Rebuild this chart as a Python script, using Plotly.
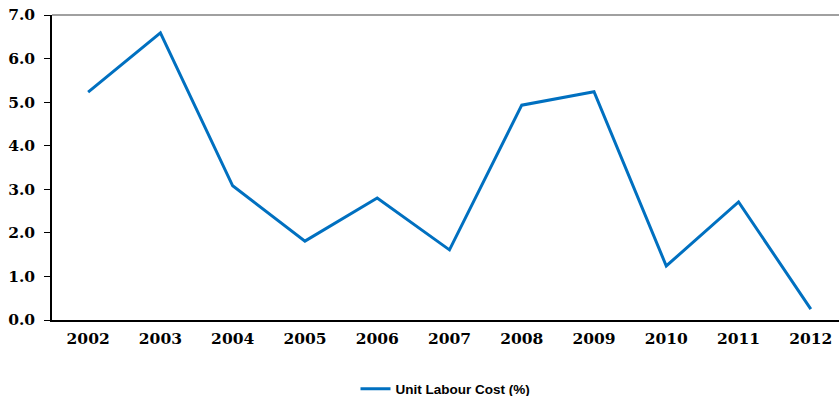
import plotly.graph_objects as go

years = ["2002", "2003", "2004", "2005", "2006", "2007", "2008", "2009", "2010", "2011", "2012"]
unit_labour_cost = [5.23, 6.59, 3.08, 1.81, 2.80, 1.61, 4.93, 5.24, 1.24, 2.71, 0.25]
y_ticks = [0, 1, 2, 3, 4, 5, 6, 7]

fig = go.Figure()
fig.add_trace(go.Scatter(
    x=list(range(len(years))),
    y=unit_labour_cost,
    mode="lines",
    name="Unit Labour Cost (%)",
    line=dict(color="#0070C0", width=3),
))

tick_font = dict(family="DejaVu Serif", size=15.5, color="#000000", weight="bold")

fig.update_layout(
    width=839,
    height=396,
    margin=dict(l=52, r=0, t=15, b=76, autoexpand=False),
    paper_bgcolor="white",
    plot_bgcolor="white",
    showlegend=True,
    legend=dict(
        orientation="h",
        x=0.5, xanchor="center", xref="paper",
        y=0.018, yanchor="middle", yref="container",
        font=dict(family="Liberation Sans", size=13.5, color="#000000", weight="bold"),
    ),
    xaxis=dict(
        range=[-0.5, 10.39],
        tickmode="array",
        tickvals=list(range(len(years))),
        ticktext=years,
        tickfont=tick_font,
        showgrid=False,
        showline=True,
        linecolor="#000000",
        linewidth=1.5,
        ticks="",
        ticklabelstandoff=4,
        zeroline=False,
    ),
    yaxis=dict(
        range=[0, 7],
        tickmode="array",
        tickvals=y_ticks,
        ticktext=[f"{v:.1f}" for v in y_ticks],
        tickfont=tick_font,
        showgrid=False,
        showline=True,
        linecolor="#000000",
        linewidth=1.5,
        ticks="outside",
        ticklen=6,
        tickcolor="#000000",
        ticklabelstandoff=6,
        zeroline=False,
    ),
    shapes=[dict(
        type="line", xref="paper", yref="paper",
        x0=0, x1=1, y0=1, y1=1,
        line=dict(color="#808080", width=1.5),
    )],
)

fig.write_html("out.html")
